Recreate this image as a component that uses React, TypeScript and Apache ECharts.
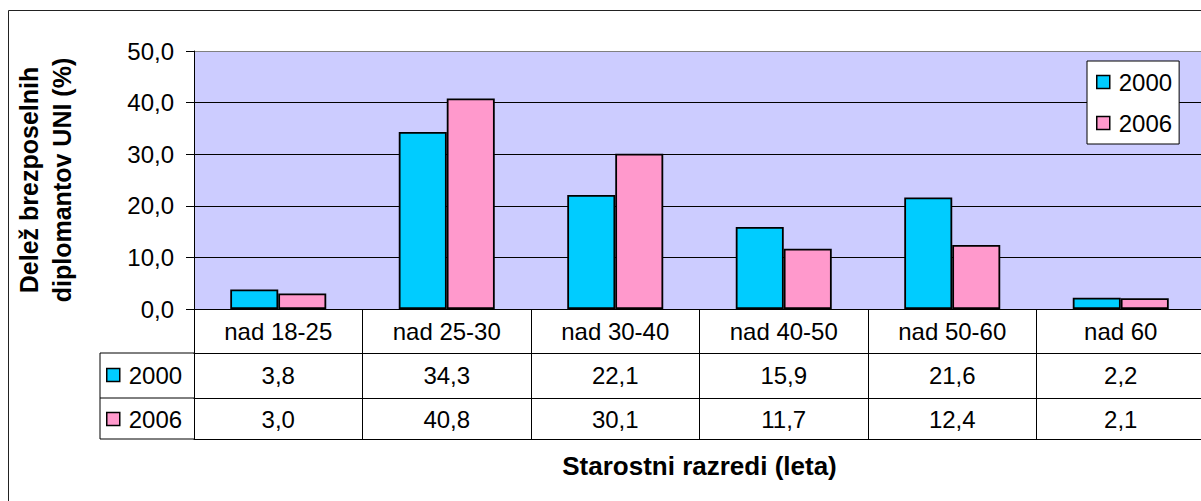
import React, { useEffect, useRef } from "react";
import * as echarts from "echarts";

const categories = ["nad 18-25", "nad 25-30", "nad 30-40", "nad 40-50", "nad 50-60", "nad 60"];
const seriesNames = ["2000", "2006"];
const values2000 = [3.8, 34.3, 22.1, 15.9, 21.6, 2.2];
const values2006 = [3.0, 40.8, 30.1, 11.7, 12.4, 2.1];
const yTicks = { min: 0, max: 50, interval: 10 };

const fmt = (v: number) => v.toFixed(1).replace(".", ",");

const FONT = "'Liberation Sans', Arial, sans-serif";
const GRID_LEFT = 194;
const GRID_TOP = 51;
const GRID_W = 1011;
const GRID_H = 258;
const ROW1 = 44;
const ROW2 = 89;
const ROW3 = 130;
const TABLE_LEFT = 100;

export default function App() {
  const ref = useRef<HTMLDivElement>(null);
  useEffect(() => {
    if (!ref.current) return;
    const chart = echarts.init(ref.current, undefined, { renderer: "svg" });
    const base = GRID_TOP + GRID_H;
    const labelStyle = { color: "#000", fontSize: 24, fontFamily: FONT };
    const lineStyle = { color: "#000", width: 1 };
    const legendCommon = {
      orient: "vertical" as const,
      icon: "rect",
      itemWidth: 13,
      itemHeight: 13,
      data: seriesNames,
      selectedMode: false,
      textStyle: { ...labelStyle, lineHeight: 23, padding: [0, 0, 0, 4] },
      itemStyle: { borderColor: "#000", borderWidth: 1.5 },
    };
    chart.setOption({
      animation: false,
      backgroundColor: "#fff",
      textStyle: { fontFamily: FONT },
      grid: {
        left: GRID_LEFT,
        top: GRID_TOP,
        width: GRID_W,
        height: GRID_H,
        show: true,
        backgroundColor: "#CCCCFF",
        borderWidth: 0,
      },
      legend: [
        {
          ...legendCommon,
          left: 1087,
          top: 61,
          padding: [9, 7, 9, 9],
          itemGap: 17,
          backgroundColor: "#fff",
          borderColor: "#000",
          borderWidth: 1,
        },
        {
          ...legendCommon,
          left: 106,
          top: base + ROW1 + 10,
          padding: 0,
          itemGap: 20,
        },
      ],
      xAxis: [
        {
          type: "category",
          data: categories,
          position: "bottom",
          axisLine: { show: true, lineStyle },
          axisTick: { show: true, interval: 0, length: ROW3, lineStyle },
          axisLabel: { ...labelStyle, interval: 0, margin: 22, verticalAlign: "middle" },
          splitLine: { show: false },
        },
        {
          type: "category",
          data: categories,
          position: "bottom",
          offset: ROW1,
          axisLine: { show: true, lineStyle },
          axisTick: { show: false },
          axisLabel: {
            ...labelStyle,
            interval: 0,
            margin: 22,
            verticalAlign: "middle",
            formatter: (_v: string, i: number) => fmt(values2000[i]),
          },
        },
        {
          type: "category",
          data: categories,
          position: "bottom",
          offset: ROW2,
          axisLine: { show: true, lineStyle },
          axisTick: { show: false },
          axisLabel: {
            ...labelStyle,
            interval: 0,
            margin: 21,
            verticalAlign: "middle",
            formatter: (_v: string, i: number) => fmt(values2006[i]),
          },
        },
        {
          type: "category",
          data: categories,
          position: "bottom",
          offset: ROW3,
          axisLine: { show: true, lineStyle },
          axisTick: { show: false },
          axisLabel: { show: false },
          name: "Starostni razredi (leta)",
          nameLocation: "middle",
          nameGap: 14,
          nameTextStyle: { color: "#000", fontSize: 26, fontWeight: "bold", fontFamily: FONT },
        },
      ],
      yAxis: {
        type: "value",
        min: yTicks.min,
        max: yTicks.max,
        interval: yTicks.interval,
        axisLine: { show: true, lineStyle },
        axisTick: { show: true, length: 8, lineStyle },
        axisLabel: { ...labelStyle, margin: 20, formatter: (v: number) => fmt(v) },
        splitLine: {
          show: true,
          lineStyle: { color: ["#000", "#000", "#000", "#000", "#000", "#808080"], width: 1 },
        },
        name: "Delež brezposelnih\ndiplomantov UNI (%)",
        nameLocation: "middle",
        nameRotate: 90,
        nameGap: 116,
        nameTextStyle: {
          color: "#000",
          fontSize: 25,
          fontWeight: "bold",
          fontFamily: FONT,
          lineHeight: 33,
        },
      },
      series: [
        {
          name: seriesNames[0],
          type: "bar",
          data: values2000,
          barWidth: 48,
          barGap: "0%",
          itemStyle: { color: "#00CCFF", borderColor: "#000", borderWidth: 1.8 },
        },
        {
          name: seriesNames[1],
          type: "bar",
          data: values2006,
          barWidth: 48,
          barGap: "0%",
          itemStyle: { color: "#FF99CC", borderColor: "#000", borderWidth: 1.8 },
        },
      ],
      graphic: [
        {
          type: "rect",
          shape: { x: 8.5, y: 10.5, width: 1400, height: 700 },
          style: { fill: "none", stroke: "#222", lineWidth: 1 },
          silent: true,
        },
        ...[ROW1, ROW2, ROW3].map((off) => ({
          type: "line",
          shape: { x1: TABLE_LEFT, y1: base + off, x2: GRID_LEFT, y2: base + off },
          style: { stroke: "#000", lineWidth: 1 },
          silent: true,
        })),
        {
          type: "line",
          shape: { x1: TABLE_LEFT, y1: base + ROW1, x2: TABLE_LEFT, y2: base + ROW3 },
          style: { stroke: "#000", lineWidth: 1 },
          silent: true,
        },
      ],
    });
    return () => chart.dispose();
  }, []);
  return (
    <div
      style={{
        position: "fixed",
        left: 0,
        top: 0,
        width: 1201,
        height: 501,
        overflow: "hidden",
        background: "#fff",
      }}
    >
      <div ref={ref} style={{ width: 1230, height: 520 }} />
    </div>
  );
}
